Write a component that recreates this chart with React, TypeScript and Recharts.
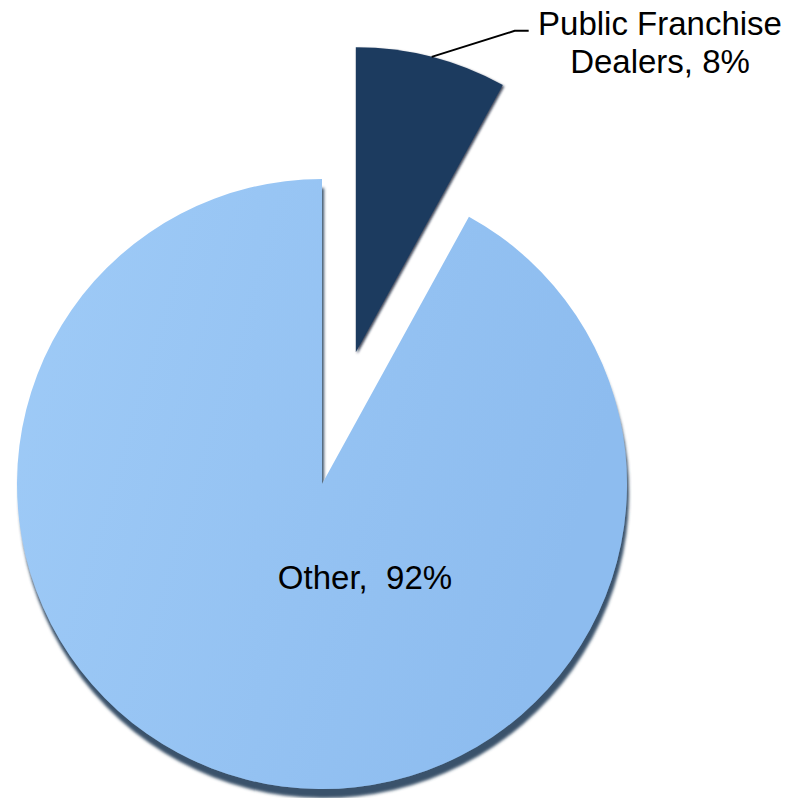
import React from 'react';
import { PieChart, Pie, Cell } from 'recharts';

const categories = ['Public Franchise Dealers', 'Other'];
const shares = [8, 92];
const labelLines = [['Public Franchise', 'Dealers, 8%'], ['Other,  92%']];

const data = categories.map((name, i) => ({ name, value: shares[i] }));

const W = 787;
const H = 798;
const CX = 322;
const CY = 484;
const R = 305;
const EXPLODE = 136;
const RADIAN = Math.PI / 180;
const total = shares.reduce((a, b) => a + b, 0);
const dealerMid = 90 - (shares[0] / total) * 360 / 2;
const dealerCx = CX + EXPLODE * Math.cos(dealerMid * RADIAN);
const dealerCy = CY - EXPLODE * Math.sin(dealerMid * RADIAN);

const font = { fontFamily: '"Liberation Sans", Arial, sans-serif', fontSize: 33, fill: '#000' };

const otherLabel = (p: any) => {
  if (p.index !== 1) return <g />;
  return (
    <text x={p.cx + 43} y={p.cy + 93} textAnchor="middle" dominantBaseline="central" style={{ ...font, whiteSpace: 'pre' }}>
      {labelLines[1][0]}
    </text>
  );
};

const dealerLabel = (p: any) => {
  if (p.index !== 0) return <g />;
  const x0 = p.cx + p.outerRadius * Math.cos(-p.midAngle * RADIAN);
  const y0 = p.cy + p.outerRadius * Math.sin(-p.midAngle * RADIAN);
  const x1 = x0 + 83;
  const y1 = y0 - 26;
  const x2 = x1 + 14;
  return (
    <g>
      <polyline points={`${x0},${y0} ${x1},${y1} ${x2},${y1}`} fill="none" stroke="#000" strokeWidth={2} />
      <text x={660} y={23} textAnchor="middle" dominantBaseline="central" style={font}>{labelLines[0][0]}</text>
      <text x={660} y={61} textAnchor="middle" dominantBaseline="central" style={font}>{labelLines[0][1]}</text>
    </g>
  );
};

export default function App() {
  return (
    <div style={{ position: 'absolute', left: 0, top: 0, width: W, height: H, background: '#fff' }}>
      <svg width={0} height={0} style={{ position: 'absolute' }}>
        <defs>
          <linearGradient id="otherGrad" x1="0" y1="0" x2="1" y2="0.3">
            <stop offset="0%" stopColor="#9FCBF7" />
            <stop offset="100%" stopColor="#8DBCEF" />
          </linearGradient>
          <filter id="pieShadow" x="-10%" y="-10%" width="120%" height="125%">
            <feDropShadow dx="2" dy="9" stdDeviation="1.5" floodColor="#2F4864" floodOpacity="0.95" />
          </filter>
          <filter id="darkShadow" x="-10%" y="-10%" width="120%" height="120%">
            <feDropShadow dx="1.5" dy="1.5" stdDeviation="1" floodColor="#0E1E33" floodOpacity="0.8" />
          </filter>
        </defs>
      </svg>
      <PieChart width={W} height={H} margin={{ top: 0, right: 0, bottom: 0, left: 0 }}>
        <Pie
          data={data}
          dataKey="value"
          nameKey="name"
          cx={CX}
          cy={CY}
          outerRadius={R}
          startAngle={90}
          endAngle={-270}
          stroke="none"
          label={otherLabel}
          labelLine={false}
          isAnimationActive={false}
        >
          <Cell fill="none" />
          <Cell fill="url(#otherGrad)" filter="url(#pieShadow)" />
        </Pie>
        <Pie
          data={data}
          dataKey="value"
          nameKey="name"
          cx={dealerCx}
          cy={dealerCy}
          outerRadius={R}
          startAngle={90}
          endAngle={-270}
          stroke="none"
          label={dealerLabel}
          labelLine={false}
          isAnimationActive={false}
        >
          <Cell fill="#1C3A5E" filter="url(#darkShadow)" />
          <Cell fill="none" />
        </Pie>
      </PieChart>
    </div>
  );
}
